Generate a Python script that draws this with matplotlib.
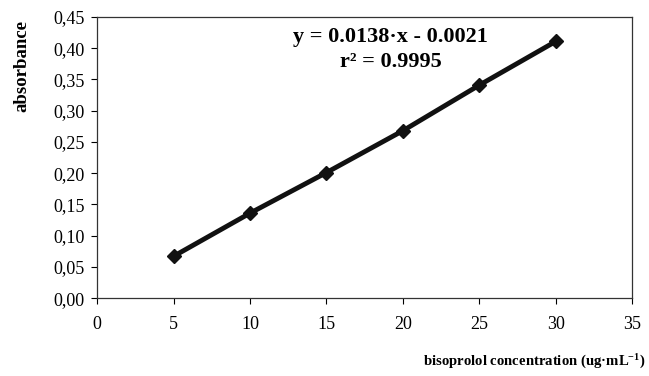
import matplotlib
matplotlib.use("Agg")
import matplotlib.pyplot as plt
from matplotlib.ticker import FuncFormatter

conc = [5, 10, 15, 20, 25, 30]
absorb = [0.067, 0.136, 0.201, 0.268, 0.341, 0.411]
x_ticks = [0, 5, 10, 15, 20, 25, 30, 35]
y_ticks = [0.00, 0.05, 0.10, 0.15, 0.20, 0.25, 0.30, 0.35, 0.40, 0.45]

plt.rcParams['font.family'] = ['Liberation Serif', 'DejaVu Serif']
plt.rcParams['mathtext.fontset'] = 'custom'
plt.rcParams['mathtext.rm'] = 'Liberation Serif'
plt.rcParams['mathtext.bf'] = 'Liberation Serif:bold'
plt.rcParams['mathtext.it'] = 'Liberation Serif:italic'

fig = plt.figure(figsize=(6.49, 3.76), dpi=100)
ax = fig.add_axes([0.1495, 0.207, 0.825, 0.748])
ax.plot(conc, absorb, color='#111111', lw=3.5, marker='D', ms=7.5, zorder=3)
ax.set_xlim(0, 35)
ax.set_ylim(0, 0.45)
ax.set_xticks(x_ticks)
ax.set_yticks(y_ticks)
ax.yaxis.set_major_formatter(FuncFormatter(lambda v, p: f"{v:.2f}".replace('.', ',')))
ax.tick_params(direction='out', length=4, width=0.8, labelsize=13, pad=5)
ax.tick_params(axis='x', pad=9)
for s in ax.spines.values():
    s.set_linewidth(0.9)
    s.set_color('#333333')

fig.text(0.034, 0.824, 'absorbance', rotation=90, ha='center', va='center',
         fontsize=13.5, fontweight='bold')
fig.text(0.995, 0.037, r'bisoprolol concentration (ug·mL$^{\mathbf{-1}}$)', ha='right', va='center',
         fontsize=10.6, fontweight='bold')
ax.text(0.548, 0.93, 'y = 0.0138·x - 0.0021', transform=ax.transAxes, ha='center', va='center',
        fontsize=16, fontweight='bold')
ax.text(0.548, 0.84, 'r² = 0.9995', transform=ax.transAxes, ha='center', va='center',
        fontsize=16, fontweight='bold')

fig.savefig('out.png', dpi=100)
